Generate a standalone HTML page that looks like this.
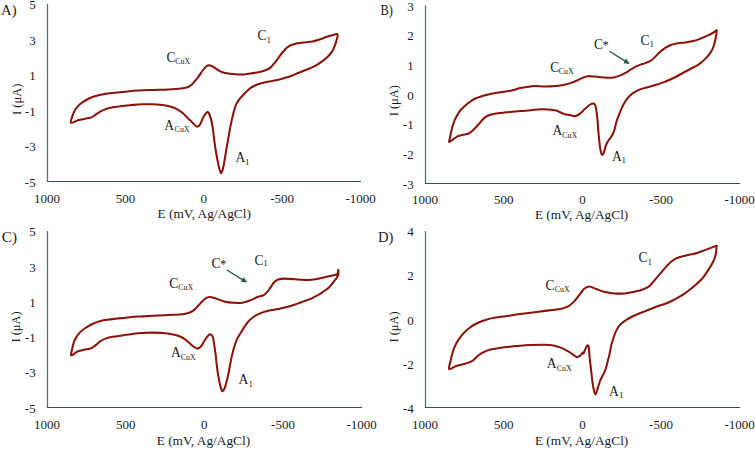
<!DOCTYPE html>
<html><head><meta charset="utf-8"><style>
html,body{margin:0;padding:0;background:#fff;}
svg{display:block;}
text{font-family:"Liberation Serif",serif;fill:#1a1a1a;}
</style></head><body>
<svg width="755" height="450" viewBox="0 0 755 450">
<rect width="755" height="450" fill="#fff"/>
<line x1="47.5" y1="4" x2="47.5" y2="181.5" stroke="#566a73" stroke-width="1.25"/>
<line x1="46.9" y1="181.5" x2="361" y2="181.5" stroke="#34504c" stroke-width="1.1"/>
<text x="35.7" y="9.2" font-size="13" text-anchor="end" >5</text>
<text x="35.7" y="44.7" font-size="13" text-anchor="end" >3</text>
<text x="35.7" y="80.2" font-size="13" text-anchor="end" >1</text>
<text x="35.7" y="115.7" font-size="13" text-anchor="end" >-1</text>
<text x="35.7" y="151.2" font-size="13" text-anchor="end" >-3</text>
<text x="35.7" y="186.7" font-size="13" text-anchor="end" >-5</text>
<text x="47.1" y="202.9" font-size="13" text-anchor="middle" >1000</text>
<text x="125.5" y="202.9" font-size="13" text-anchor="middle" >500</text>
<text x="203.8" y="202.9" font-size="13" text-anchor="middle" >0</text>
<text x="282.2" y="202.9" font-size="13" text-anchor="middle" >-500</text>
<text x="360.6" y="202.9" font-size="13" text-anchor="middle" >-1000</text>
<text x="204.2" y="218.1" font-size="13.2" text-anchor="middle" textLength="93.4" lengthAdjust="spacingAndGlyphs">E (mV, Ag/AgCl)</text>
<text transform="translate(21.0,99.3) rotate(-90)" font-size="12.5" text-anchor="middle" textLength="31.2" lengthAdjust="spacingAndGlyphs">I (μA)</text>
<path transform="translate(0.15,0.4)" d="M70.7,122.4 C69.9,121.7 71.6,117.9 72.1,116.2 C72.6,114.5 72.9,113.6 73.6,112.2 C74.3,110.8 75.0,109.1 76.1,107.7 C77.2,106.3 78.6,104.9 80.1,103.6 C81.6,102.3 83.2,101.3 85.2,100.1 C87.2,98.9 89.9,97.5 92.2,96.6 C94.5,95.7 96.8,95.2 99.3,94.6 C101.8,94.0 104.3,93.5 107.3,93.1 C110.3,92.7 114.0,92.3 117.4,92.0 C120.8,91.7 124.1,91.3 127.5,91.0 C130.9,90.7 134.6,90.4 138.0,90.2 C141.4,90.0 144.8,89.8 148.1,89.7 C151.4,89.6 154.8,89.5 158.1,89.4 C161.4,89.3 164.8,89.2 168.2,89.0 C171.6,88.8 175.5,88.7 178.3,88.4 C181.2,88.1 183.3,87.9 185.3,87.4 C187.3,86.9 188.9,86.2 190.4,85.2 C191.9,84.2 193.1,82.6 194.4,81.1 C195.7,79.6 197.1,77.9 198.4,76.1 C199.8,74.3 201.2,71.8 202.5,70.1 C203.8,68.4 205.2,66.7 206.3,65.8 C207.4,64.9 208.2,64.7 209.3,64.8 C210.4,64.9 211.3,65.4 213.1,66.4 C214.9,67.4 218.1,70.0 220.1,71.0 C222.1,72.0 222.6,72.1 225.1,72.6 C227.6,73.1 232.2,73.7 235.2,73.9 C238.2,74.1 240.8,74.1 243.3,74.0 C245.8,73.9 247.5,73.7 250.3,73.2 C253.2,72.8 257.7,71.9 260.4,71.3 C263.1,70.7 265.0,70.1 266.7,69.4 C268.4,68.7 269.4,68.0 270.6,67.0 C271.8,66.0 272.7,64.5 273.7,63.3 C274.7,62.0 275.8,60.9 276.8,59.5 C277.8,58.1 278.9,56.6 279.9,55.2 C280.9,53.8 282.0,52.5 283.0,51.3 C284.0,50.1 284.9,48.8 286.1,47.8 C287.3,46.8 288.6,45.8 290.0,45.1 C291.4,44.4 292.7,44.0 294.7,43.5 C296.7,43.0 299.1,42.7 302.0,42.3 C304.9,41.9 309.5,41.6 312.4,41.1 C315.3,40.6 316.9,39.9 319.4,39.1 C321.9,38.3 325.0,36.9 327.5,36.1 C330.0,35.3 332.9,34.5 334.5,34.1 C336.1,33.7 336.5,33.3 337.0,33.6 C337.5,33.9 337.5,34.9 337.4,36.0 C337.3,37.1 336.8,38.5 336.3,40.1 C335.8,41.7 335.3,43.9 334.5,45.8 C333.7,47.7 332.8,49.7 331.7,51.5 C330.6,53.3 329.1,54.9 327.6,56.4 C326.2,57.9 324.9,58.8 323.0,60.2 C321.1,61.6 318.6,63.5 316.4,64.8 C314.2,66.1 311.9,67.0 310.0,67.8 C308.1,68.6 307.0,69.0 305.0,69.8 C303.0,70.6 300.3,71.6 298.0,72.6 C295.7,73.6 293.4,74.7 291.0,75.6 C288.6,76.5 286.2,77.1 283.9,77.8 C281.6,78.5 279.4,79.0 277.2,79.5 C275.0,80.0 273.1,80.2 270.5,80.8 C267.9,81.3 263.9,82.1 261.4,82.8 C258.9,83.5 257.4,83.9 255.4,84.8 C253.4,85.7 251.3,86.7 249.3,88.3 C247.3,89.9 244.9,92.6 243.3,94.3 C241.7,96.0 240.7,96.9 239.5,98.5 C238.3,100.1 236.9,102.1 236.0,104.0 C235.1,105.9 234.7,107.7 234.0,110.0 C233.3,112.3 232.6,115.5 232.0,118.0 C231.4,120.5 231.0,122.5 230.5,125.0 C230.0,127.5 229.4,130.7 229.0,133.0 C228.6,135.3 228.4,136.7 228.0,139.0 C227.6,141.3 227.0,144.3 226.5,147.0 C226.0,149.7 225.7,152.3 225.2,155.2 C224.7,158.1 224.2,161.7 223.7,164.2 C223.2,166.7 222.7,168.9 222.2,170.3 C221.7,171.7 221.2,172.9 220.7,172.6 C220.2,172.3 219.8,170.4 219.2,168.3 C218.6,166.2 218.0,163.2 217.4,160.2 C216.8,157.2 216.2,153.5 215.6,150.1 C215.0,146.7 214.6,143.3 214.1,139.5 C213.6,135.7 213.1,130.7 212.5,127.0 C211.9,123.3 211.2,119.9 210.5,117.5 C209.8,115.1 209.2,113.4 208.5,112.5 C207.8,111.6 207.4,111.2 206.5,112.0 C205.6,112.8 204.1,115.0 203.0,117.0 C201.9,119.0 201.0,122.4 200.0,124.0 C199.0,125.6 198.0,126.4 197.0,126.4 C196.0,126.4 195.1,125.0 194.0,124.0 C192.9,123.0 191.5,121.4 190.5,120.4 C189.5,119.4 189.1,119.2 187.8,117.9 C186.5,116.6 184.3,114.1 182.5,112.6 C180.7,111.1 179.1,110.0 177.2,108.9 C175.2,107.9 173.3,107.0 170.8,106.3 C168.3,105.6 165.6,105.1 162.4,104.7 C159.2,104.3 155.3,104.0 151.8,103.9 C148.3,103.8 144.7,103.8 141.2,103.9 C137.7,104.0 134.1,104.4 130.6,104.7 C127.1,105.0 123.4,105.3 120.0,105.8 C116.6,106.2 112.9,106.8 110.3,107.4 C107.7,108.0 106.1,108.5 104.3,109.2 C102.5,109.9 101.0,110.7 99.3,111.7 C97.6,112.7 95.5,114.3 94.2,115.2 C92.9,116.1 92.2,116.6 91.2,117.0 C90.2,117.4 89.7,117.4 88.2,117.7 C86.7,118.0 83.9,118.6 82.1,119.0 C80.2,119.4 79.0,119.6 77.1,120.2 C75.2,120.8 71.5,123.1 70.7,122.4 Z" fill="none" stroke="#8a1309" stroke-width="2.05" stroke-linejoin="round"/>
<line x1="425.5" y1="5.3" x2="425.5" y2="183.5" stroke="#566a73" stroke-width="1.25"/>
<line x1="424.9" y1="183.5" x2="740" y2="183.5" stroke="#34504c" stroke-width="1.1"/>
<text x="413.7" y="10.5" font-size="13" text-anchor="end" >3</text>
<text x="413.7" y="40.2" font-size="13" text-anchor="end" >2</text>
<text x="413.7" y="69.9" font-size="13" text-anchor="end" >1</text>
<text x="413.7" y="99.6" font-size="13" text-anchor="end" >0</text>
<text x="413.7" y="129.3" font-size="13" text-anchor="end" >-1</text>
<text x="413.7" y="159.0" font-size="13" text-anchor="end" >-2</text>
<text x="413.7" y="188.7" font-size="13" text-anchor="end" >-3</text>
<text x="425.1" y="204.2" font-size="13" text-anchor="middle" >1000</text>
<text x="503.7" y="204.2" font-size="13" text-anchor="middle" >500</text>
<text x="582.4" y="204.2" font-size="13" text-anchor="middle" >0</text>
<text x="661.0" y="204.2" font-size="13" text-anchor="middle" >-500</text>
<text x="739.6" y="204.2" font-size="13" text-anchor="middle" >-1000</text>
<text x="581.6" y="219.4" font-size="13.2" text-anchor="middle" textLength="93.4" lengthAdjust="spacingAndGlyphs">E (mV, Ag/AgCl)</text>
<text transform="translate(398.4,100.7) rotate(-90)" font-size="12.5" text-anchor="middle" textLength="31.2" lengthAdjust="spacingAndGlyphs">I (μA)</text>
<path transform="translate(0.15,0.4)" d="M449.0,141.7 C448.4,141.4 449.6,138.6 450.0,136.7 C450.4,134.8 450.8,132.1 451.3,130.0 C451.8,127.9 452.4,125.8 453.0,124.0 C453.6,122.2 454.0,121.0 454.6,119.5 C455.2,118.0 455.9,116.9 456.8,115.3 C457.7,113.7 458.7,111.8 460.1,110.1 C461.5,108.4 463.5,106.6 465.2,105.1 C466.9,103.6 468.5,102.3 470.2,101.1 C471.9,99.9 473.2,99.0 475.2,98.1 C477.2,97.2 479.8,96.3 482.3,95.5 C484.8,94.7 487.4,94.1 490.4,93.5 C493.4,92.9 497.0,92.3 500.4,91.8 C503.8,91.3 507.2,91.0 510.5,90.3 C513.8,89.6 516.8,88.4 520.1,87.7 C523.4,87.0 527.6,86.3 530.1,86.0 C532.6,85.7 532.7,85.6 535.2,85.6 C537.7,85.6 541.9,86.1 545.2,86.1 C548.6,86.1 551.9,85.9 555.3,85.6 C558.7,85.3 562.5,84.7 565.4,84.1 C568.3,83.5 570.9,82.5 572.8,81.8 C574.7,81.1 575.6,80.6 576.8,80.1 C578.0,79.5 579.1,79.0 580.2,78.5 C581.3,78.0 582.2,77.5 583.2,77.1 C584.2,76.7 585.5,76.2 586.5,76.0 C587.5,75.8 588.2,75.7 589.5,75.7 C590.8,75.7 592.5,76.0 594.3,76.2 C596.0,76.4 597.9,76.6 600.0,76.8 C602.1,77.0 604.5,77.3 606.8,77.3 C609.0,77.3 611.2,77.4 613.5,77.0 C615.8,76.6 618.0,75.9 620.3,75.0 C622.5,74.1 625.3,72.5 627.0,71.6 C628.7,70.6 629.3,70.0 630.4,69.3 C631.5,68.6 632.7,67.8 633.8,67.2 C634.9,66.6 636.1,66.0 637.2,65.5 C638.3,65.0 639.4,64.6 640.5,64.2 C641.6,63.8 642.8,63.6 643.9,63.2 C645.0,62.8 646.1,62.3 647.3,61.8 C648.5,61.3 649.7,61.0 651.0,60.1 C652.3,59.2 653.5,58.0 655.0,56.5 C656.5,55.0 658.3,52.9 660.0,51.4 C661.7,49.9 663.4,48.5 665.1,47.4 C666.8,46.3 668.4,45.5 670.1,44.8 C671.8,44.1 672.6,43.8 675.1,43.3 C677.6,42.8 682.2,42.4 685.2,42.0 C688.2,41.6 690.8,41.3 693.3,40.7 C695.8,40.1 697.8,39.2 700.3,38.2 C702.8,37.2 706.2,35.7 708.4,34.7 C710.6,33.7 712.0,32.9 713.4,32.1 C714.8,31.3 716.3,29.0 716.6,30.0 C716.9,31.0 715.9,35.4 715.4,38.1 C714.9,40.8 714.2,43.8 713.4,46.1 C712.6,48.5 711.7,50.2 710.4,52.2 C709.1,54.2 707.4,56.2 705.4,58.2 C703.4,60.2 700.7,62.6 698.3,64.3 C695.9,65.9 693.5,66.8 691.0,68.1 C688.5,69.4 686.1,70.7 683.5,72.1 C680.9,73.5 678.4,75.1 675.4,76.6 C672.4,78.1 668.8,79.8 665.4,81.1 C662.0,82.4 658.7,83.7 655.3,84.7 C651.9,85.8 648.1,86.6 645.2,87.4 C642.4,88.2 640.4,88.7 638.2,89.7 C636.0,90.7 634.0,91.8 632.1,93.2 C630.2,94.6 628.6,96.4 627.1,98.3 C625.6,100.2 624.4,102.0 623.1,104.5 C621.8,107.0 620.4,110.4 619.3,113.2 C618.2,116.0 617.1,118.8 616.3,121.3 C615.5,123.8 615.3,126.0 614.7,128.1 C614.1,130.2 613.5,132.0 612.7,133.6 C612.0,135.2 611.0,136.3 610.2,137.6 C609.4,138.8 608.5,139.8 607.7,141.1 C607.0,142.4 606.4,143.3 605.7,145.2 C605.0,147.0 604.4,150.7 603.7,152.2 C603.0,153.7 602.3,154.9 601.7,154.2 C601.1,153.5 600.5,150.5 600.1,148.2 C599.7,145.8 599.4,143.1 599.1,140.1 C598.8,137.1 598.4,133.4 598.1,130.1 C597.8,126.8 597.7,123.3 597.4,120.2 C597.1,117.1 596.8,113.7 596.4,111.2 C596.0,108.7 595.7,106.4 595.2,105.1 C594.7,103.8 594.1,103.3 593.2,103.1 C592.4,102.9 591.5,103.2 590.1,104.1 C588.8,104.9 586.8,106.7 585.1,108.2 C583.4,109.7 581.7,112.0 580.0,113.2 C578.3,114.5 576.7,115.5 575.0,115.7 C573.3,116.0 571.8,115.1 570.0,114.7 C568.2,114.3 566.3,114.3 564.0,113.6 C561.7,112.8 558.6,111.0 556.0,110.2 C553.4,109.5 551.1,109.3 548.5,109.1 C545.9,108.9 543.4,108.8 540.4,108.9 C537.4,109.0 533.8,109.6 530.4,109.9 C527.0,110.2 523.7,110.3 520.3,110.6 C516.9,110.9 513.6,111.3 510.2,111.6 C506.8,111.9 503.0,112.3 500.1,112.6 C497.2,112.9 495.1,113.2 493.1,113.6 C491.1,114.0 489.6,114.4 488.1,115.1 C486.6,115.8 485.3,116.6 484.0,117.7 C482.7,118.8 481.5,120.3 480.5,121.5 C479.5,122.7 478.7,123.6 477.8,124.6 C476.9,125.6 476.3,126.3 475.3,127.3 C474.3,128.3 473.0,129.8 472.0,130.7 C471.0,131.6 470.2,132.2 469.3,132.7 C468.4,133.2 467.9,133.4 466.7,133.7 C465.5,134.0 463.6,134.1 462.0,134.5 C460.4,134.9 458.8,135.3 457.3,136.0 C455.9,136.7 454.7,137.8 453.3,138.7 C451.9,139.6 449.6,142.0 449.0,141.7 Z" fill="none" stroke="#8a1309" stroke-width="2.05" stroke-linejoin="round"/>
<line x1="47.5" y1="231.1" x2="47.5" y2="407.5" stroke="#566a73" stroke-width="1.25"/>
<line x1="46.9" y1="407.5" x2="362" y2="407.5" stroke="#34504c" stroke-width="1.1"/>
<text x="35.7" y="236.3" font-size="13" text-anchor="end" >5</text>
<text x="35.7" y="271.6" font-size="13" text-anchor="end" >3</text>
<text x="35.7" y="306.9" font-size="13" text-anchor="end" >1</text>
<text x="35.7" y="342.1" font-size="13" text-anchor="end" >-1</text>
<text x="35.7" y="377.4" font-size="13" text-anchor="end" >-3</text>
<text x="35.7" y="412.7" font-size="13" text-anchor="end" >-5</text>
<text x="47.1" y="429.0" font-size="13" text-anchor="middle" >1000</text>
<text x="125.7" y="429.0" font-size="13" text-anchor="middle" >500</text>
<text x="204.3" y="429.0" font-size="13" text-anchor="middle" >0</text>
<text x="283.0" y="429.0" font-size="13" text-anchor="middle" >-500</text>
<text x="361.6" y="429.0" font-size="13" text-anchor="middle" >-1000</text>
<text x="203.4" y="445.1" font-size="13.2" text-anchor="middle" textLength="93.4" lengthAdjust="spacingAndGlyphs">E (mV, Ag/AgCl)</text>
<text transform="translate(20.4,327.0) rotate(-90)" font-size="12.5" text-anchor="middle" textLength="31.2" lengthAdjust="spacingAndGlyphs">I (μA)</text>
<path transform="translate(0.15,0.4)" d="M71.0,355.0 C70.2,354.5 71.7,350.4 72.1,348.3 C72.5,346.2 72.9,344.1 73.6,342.2 C74.3,340.3 75.0,338.4 76.1,336.7 C77.2,334.9 78.6,333.2 80.1,331.7 C81.6,330.2 83.2,329.0 85.2,327.6 C87.2,326.2 89.7,324.8 92.2,323.6 C94.7,322.4 97.8,321.3 100.3,320.6 C102.8,319.9 104.4,319.7 107.3,319.3 C110.2,318.9 114.0,318.5 117.4,318.1 C120.8,317.7 124.1,317.3 127.5,317.0 C130.9,316.7 134.6,316.4 138.0,316.2 C141.4,316.0 144.8,315.9 148.1,315.7 C151.4,315.5 154.8,315.2 158.1,315.0 C161.4,314.8 164.8,314.8 168.2,314.7 C171.6,314.6 175.3,314.4 178.3,314.2 C181.3,313.9 184.0,313.8 186.3,313.2 C188.7,312.6 190.6,311.9 192.4,310.7 C194.2,309.5 195.9,307.6 197.4,306.1 C198.9,304.6 200.1,303.0 201.4,301.6 C202.8,300.2 204.2,298.7 205.5,297.9 C206.8,297.1 208.2,296.8 209.5,296.7 C210.8,296.6 212.4,297.1 213.5,297.3 C214.6,297.6 214.2,297.6 216.0,298.2 C217.8,298.8 221.0,300.3 224.0,301.0 C227.0,301.7 231.0,302.2 234.0,302.4 C237.0,302.6 239.3,302.8 242.0,302.4 C244.7,302.0 247.3,301.0 250.0,300.0 C252.7,299.0 255.7,297.3 258.0,296.4 C260.3,295.5 262.3,295.4 264.0,294.4 C265.7,293.4 266.9,291.8 268.0,290.5 C269.1,289.2 269.5,288.2 270.5,286.8 C271.5,285.4 272.7,283.2 274.0,281.9 C275.3,280.6 276.2,279.6 278.1,279.0 C280.0,278.4 282.2,278.2 285.1,278.2 C288.0,278.2 292.7,278.7 295.2,278.9 C297.7,279.1 297.9,279.2 300.0,279.3 C302.1,279.4 305.2,279.7 307.8,279.6 C310.4,279.5 313.0,279.2 315.6,278.8 C318.2,278.4 320.7,277.7 323.3,277.1 C325.9,276.5 328.8,275.9 331.1,275.4 C333.5,274.8 336.3,274.1 337.4,273.8 L338.2,269.5 L338.2,274.5 C337.8,275.2 336.5,277.6 335.8,278.6 C335.1,279.6 334.6,279.9 334.0,280.6 C333.4,281.4 332.9,282.2 332.2,283.1 C331.5,284.0 330.7,285.0 330.0,285.8 C329.3,286.6 328.5,287.4 327.8,288.0 C327.1,288.6 326.4,289.1 325.6,289.6 C324.9,290.1 324.1,290.6 323.3,291.1 C322.6,291.6 321.8,292.2 321.1,292.7 C320.4,293.2 319.6,293.6 318.9,294.0 C318.2,294.4 317.4,294.9 316.7,295.3 C315.9,295.7 315.1,296.0 314.4,296.4 C313.6,296.8 312.9,297.2 312.2,297.6 C311.5,298.0 311.4,298.2 310.0,298.7 C308.6,299.2 305.5,300.1 303.9,300.7 C302.3,301.3 302.8,301.3 300.5,302.1 C298.2,302.9 293.8,304.6 290.4,305.6 C287.0,306.6 283.8,307.4 280.4,308.1 C277.0,308.8 273.2,309.3 270.3,309.9 C267.4,310.5 265.6,310.9 263.2,311.7 C260.8,312.5 258.4,313.4 256.2,314.7 C254.0,315.9 251.9,317.4 250.1,319.2 C248.2,320.9 246.5,323.3 245.1,325.2 C243.7,327.1 242.8,328.9 241.8,330.5 C240.8,332.1 239.9,333.4 239.1,334.8 C238.3,336.2 237.6,337.2 236.9,338.8 C236.2,340.4 235.4,342.6 234.7,344.6 C234.0,346.6 233.4,348.7 232.9,350.8 C232.4,352.9 231.9,354.7 231.4,357.0 C230.9,359.3 230.4,362.1 229.9,364.5 C229.4,366.9 229.2,368.5 228.7,371.1 C228.2,373.7 227.4,377.5 226.7,380.2 C226.0,382.9 225.4,385.4 224.7,387.2 C223.9,389.0 223.0,391.1 222.2,390.8 C221.4,390.5 220.8,387.8 220.1,385.2 C219.4,382.6 218.7,378.5 218.1,375.1 C217.5,371.7 217.0,368.0 216.6,364.7 C216.2,361.4 216.0,358.4 215.6,355.1 C215.2,351.9 214.7,348.3 214.2,345.2 C213.7,342.1 213.3,338.5 212.7,336.6 C212.1,334.8 211.3,334.4 210.6,334.1 C209.9,333.8 209.5,333.8 208.6,334.6 C207.7,335.4 206.3,337.3 205.1,339.1 C203.8,340.9 202.3,344.1 201.1,345.6 C199.8,347.1 198.8,348.0 197.6,348.2 C196.4,348.4 195.3,347.4 194.0,346.6 C192.7,345.8 191.4,344.6 190.0,343.4 C188.6,342.2 187.3,340.8 185.7,339.6 C184.1,338.4 182.5,337.3 180.4,336.4 C178.3,335.5 176.0,334.8 173.0,334.1 C170.0,333.5 165.9,332.8 162.4,332.5 C158.9,332.2 155.3,332.2 151.8,332.2 C148.3,332.2 144.7,332.4 141.2,332.7 C137.7,333.0 133.7,333.4 130.6,333.8 C127.5,334.2 125.4,334.6 122.4,335.0 C119.4,335.4 115.2,335.9 112.4,336.4 C109.6,336.9 107.3,337.5 105.3,338.2 C103.3,338.9 101.8,339.7 100.3,340.7 C98.8,341.7 97.5,343.1 96.2,344.2 C94.9,345.3 93.4,346.6 92.2,347.3 C91.0,348.0 90.9,347.9 89.2,348.3 C87.5,348.7 84.1,349.3 82.1,349.8 C80.1,350.3 78.9,350.4 77.1,351.3 C75.2,352.2 71.8,355.5 71.0,355.0 Z" fill="none" stroke="#8a1309" stroke-width="2.05" stroke-linejoin="round"/>
<line x1="425.5" y1="231.1" x2="425.5" y2="407.5" stroke="#566a73" stroke-width="1.25"/>
<line x1="424.9" y1="407.5" x2="740" y2="407.5" stroke="#34504c" stroke-width="1.1"/>
<text x="413.7" y="236.3" font-size="13" text-anchor="end" >4</text>
<text x="413.7" y="280.4" font-size="13" text-anchor="end" >2</text>
<text x="413.7" y="324.5" font-size="13" text-anchor="end" >0</text>
<text x="413.7" y="368.6" font-size="13" text-anchor="end" >-2</text>
<text x="413.7" y="412.7" font-size="13" text-anchor="end" >-4</text>
<text x="425.1" y="429.0" font-size="13" text-anchor="middle" >1000</text>
<text x="503.7" y="429.0" font-size="13" text-anchor="middle" >500</text>
<text x="582.4" y="429.0" font-size="13" text-anchor="middle" >0</text>
<text x="661.0" y="429.0" font-size="13" text-anchor="middle" >-500</text>
<text x="739.6" y="429.0" font-size="13" text-anchor="middle" >-1000</text>
<text x="581.6" y="445.2" font-size="13.2" text-anchor="middle" textLength="93.4" lengthAdjust="spacingAndGlyphs">E (mV, Ag/AgCl)</text>
<text transform="translate(398.4,327.0) rotate(-90)" font-size="12.5" text-anchor="middle" textLength="31.2" lengthAdjust="spacingAndGlyphs">I (μA)</text>
<path transform="translate(0.15,0.4)" d="M449.0,368.6 C448.1,367.6 450.1,362.4 450.6,359.8 C451.1,357.2 451.4,355.6 452.1,353.3 C452.8,351.0 453.6,348.5 454.6,346.2 C455.6,343.9 456.7,341.9 458.1,339.7 C459.5,337.5 461.4,335.1 463.2,333.1 C465.0,331.1 467.0,329.3 469.2,327.6 C471.4,325.9 473.6,324.5 476.3,323.1 C479.0,321.8 482.1,320.5 485.3,319.5 C488.5,318.5 492.0,317.8 495.4,317.2 C498.8,316.6 501.4,316.4 505.5,315.8 C509.6,315.2 514.2,314.4 520.0,313.6 C525.8,312.8 533.3,311.8 540.0,311.0 C546.7,310.2 555.3,309.4 560.0,308.6 C564.7,307.8 565.7,307.3 568.0,306.0 C570.3,304.7 572.0,303.1 574.0,301.0 C576.0,298.9 578.3,295.6 580.0,293.5 C581.7,291.4 582.5,289.6 584.0,288.4 C585.5,287.1 587.0,286.0 589.0,286.0 C591.0,286.0 593.5,287.7 596.0,288.6 C598.5,289.5 601.0,290.7 604.0,291.4 C607.0,292.1 610.7,292.7 614.0,293.0 C617.3,293.3 620.7,293.3 624.0,293.0 C627.3,292.7 630.7,292.1 634.0,291.4 C637.3,290.7 641.3,289.7 644.0,288.6 C646.7,287.5 648.0,286.8 650.0,285.0 C652.0,283.2 654.0,280.3 656.0,278.0 C658.0,275.7 660.0,273.3 662.0,271.0 C664.0,268.7 665.7,266.2 668.0,264.0 C670.3,261.8 673.0,259.5 676.0,258.0 C679.0,256.5 683.0,255.8 686.0,255.0 C689.0,254.2 691.0,254.2 694.0,253.4 C697.0,252.6 701.0,251.1 704.0,250.0 C707.0,248.9 709.9,247.8 712.0,247.0 C714.1,246.2 715.7,245.4 716.4,245.4 C717.1,245.4 716.4,245.9 716.3,247.0 C716.2,248.1 716.1,250.2 715.9,251.7 C715.7,253.2 715.4,254.8 715.0,256.1 C714.6,257.4 714.2,258.6 713.7,259.7 C713.2,260.8 712.7,261.8 712.2,262.8 C711.7,263.8 711.5,264.1 710.6,265.5 C709.8,266.9 708.4,269.2 707.1,271.2 C705.8,273.2 704.3,275.5 702.7,277.4 C701.1,279.3 699.2,281.0 697.3,282.8 C695.4,284.6 693.3,286.3 691.1,288.1 C688.9,289.9 686.5,291.7 684.0,293.4 C681.5,295.1 678.5,296.9 676.0,298.3 C673.5,299.7 671.1,300.9 668.9,301.9 C666.7,302.9 664.9,303.4 662.7,304.1 C660.6,304.9 658.0,305.6 656.0,306.4 C654.0,307.1 653.0,307.6 650.4,308.6 C647.8,309.6 643.3,311.4 640.3,312.6 C637.3,313.9 634.7,314.9 632.2,316.1 C629.7,317.4 627.2,318.8 625.2,320.1 C623.2,321.5 621.6,322.5 620.1,324.2 C618.6,325.9 617.3,327.8 616.1,330.2 C614.9,332.6 613.9,335.9 613.1,338.3 C612.3,340.7 611.6,342.9 611.1,344.8 C610.6,346.8 610.4,348.3 610.1,350.0 C609.8,351.7 609.5,353.3 609.1,355.0 C608.7,356.7 608.2,358.5 607.7,360.3 C607.2,362.1 606.9,363.8 606.4,365.6 C605.9,367.4 605.3,369.4 604.6,371.0 C603.9,372.6 603.1,373.9 602.4,375.4 C601.7,376.9 600.9,378.2 600.2,379.8 C599.5,381.4 599.0,383.4 598.4,385.2 C597.8,387.0 597.2,389.1 596.7,390.5 C596.2,391.9 595.7,394.0 595.2,393.8 C594.7,393.6 594.1,391.5 593.6,389.2 C593.1,386.9 592.5,383.0 592.1,380.1 C591.7,377.2 591.5,374.5 591.2,372.0 C590.9,369.5 590.7,367.3 590.4,365.0 C590.1,362.7 589.9,361.2 589.6,358.2 C589.3,355.2 589.0,349.3 588.6,347.1 C588.2,344.9 587.8,344.6 587.1,345.1 C586.4,345.6 585.2,348.8 584.6,350.1 C584.0,351.5 583.6,352.9 583.3,353.2 C583.0,353.5 583.1,351.9 582.6,352.2 C582.1,352.5 581.1,354.4 580.1,355.2 C579.1,355.9 577.7,356.9 576.5,356.7 C575.3,356.5 574.4,355.1 573.0,354.2 C571.6,353.2 570.2,352.2 568.0,351.0 C565.8,349.8 563.0,348.1 560.0,347.0 C557.0,345.9 555.0,345.0 550.0,344.6 C545.0,344.2 535.7,344.4 530.0,344.6 C524.3,344.8 519.9,345.4 516.0,345.7 C512.1,346.0 509.4,346.4 506.5,346.7 C503.6,347.0 501.1,347.3 498.4,347.7 C495.7,348.1 492.9,348.5 490.4,349.2 C487.9,349.9 485.3,350.9 483.3,351.8 C481.3,352.7 480.0,353.5 478.3,354.8 C476.6,356.1 474.8,358.6 473.2,359.8 C471.6,361.0 470.5,361.4 469.0,362.0 C467.5,362.6 466.2,363.0 464.0,363.6 C461.8,364.2 458.5,364.8 456.0,365.6 C453.5,366.4 449.9,369.6 449.0,368.6 Z" fill="none" stroke="#8a1309" stroke-width="2.05" stroke-linejoin="round"/>
<text x="1" y="14.7" font-size="14" text-anchor="start" textLength="15.6" lengthAdjust="spacingAndGlyphs">A)</text>
<text x="380.6" y="14.9" font-size="14" text-anchor="start" textLength="12.4" lengthAdjust="spacingAndGlyphs">B)</text>
<text x="1.8" y="241.7" font-size="14" text-anchor="start" textLength="15.2" lengthAdjust="spacingAndGlyphs">C)</text>
<text x="378" y="241.7" font-size="14" text-anchor="start" textLength="15.4" lengthAdjust="spacingAndGlyphs">D)</text>
<text x="166.5" y="61.5" font-size="13.6">C</text><text x="175.3" y="64" font-size="9" textLength="15" lengthAdjust="spacingAndGlyphs">CuX</text>
<text x="257.6" y="40" font-size="13.6">C</text><text x="266.6" y="42.6" font-size="9">1</text>
<text x="164.2" y="129.6" font-size="13.6">A</text><text x="174.6" y="132.4" font-size="9" textLength="15" lengthAdjust="spacingAndGlyphs">CuX</text>
<text x="235.6" y="162" font-size="13.6">A</text><text x="245" y="164.7" font-size="9">1</text>
<text x="550.2" y="72" font-size="13.6">C</text><text x="558.8" y="74" font-size="9" textLength="15" lengthAdjust="spacingAndGlyphs">CuX</text>
<text x="640.6" y="45" font-size="13.6">C</text><text x="649.4" y="47.4" font-size="9">1</text>
<text x="552.6" y="135" font-size="13.6">A</text><text x="562.2" y="137.8" font-size="9" textLength="15" lengthAdjust="spacingAndGlyphs">CuX</text>
<text x="612" y="160.5" font-size="13.6">A</text><text x="621.6" y="163.1" font-size="9">1</text>
<text x="169.2" y="288" font-size="13.6">C</text><text x="178.2" y="290" font-size="9" textLength="15" lengthAdjust="spacingAndGlyphs">CuX</text>
<text x="254.6" y="264.6" font-size="13.6">C</text><text x="263.2" y="266.4" font-size="9">1</text>
<text x="171" y="357" font-size="13.6">A</text><text x="180.8" y="360" font-size="9" textLength="15" lengthAdjust="spacingAndGlyphs">CuX</text>
<text x="238.6" y="384" font-size="13.6">A</text><text x="248.4" y="386.7" font-size="9">1</text>
<text x="545.6" y="290" font-size="13.6">C</text><text x="554.8" y="292.4" font-size="9" textLength="15" lengthAdjust="spacingAndGlyphs">CuX</text>
<text x="638.6" y="262" font-size="13.6">C</text><text x="647.6" y="264.6" font-size="9">1</text>
<text x="546.8" y="368" font-size="13.6">A</text><text x="556.8" y="371" font-size="9" textLength="15" lengthAdjust="spacingAndGlyphs">CuX</text>
<text x="609" y="395.8" font-size="13.6">A</text><text x="619" y="398.3" font-size="9">1</text>
<text x="594" y="49.4" font-size="13.6">C</text>
<text x="602.6" y="48.8" font-size="12.5">*</text>
<line x1="609.5" y1="51.2" x2="625.6" y2="61.4" stroke="#1e5b4c" stroke-width="1.3"/>
<polygon points="629.7,64 623.4,63.2 626.2,58.6" fill="#1e5b4c"/>
<text x="211.4" y="268.4" font-size="13.6">C</text>
<text x="220.0" y="267.79999999999995" font-size="12.5">*</text>
<line x1="227" y1="270" x2="243.1" y2="280.1" stroke="#1e5b4c" stroke-width="1.3"/>
<polygon points="247.2,282.6 240.8,281.8 243.7,277.2" fill="#1e5b4c"/>
</svg>
</body></html>
